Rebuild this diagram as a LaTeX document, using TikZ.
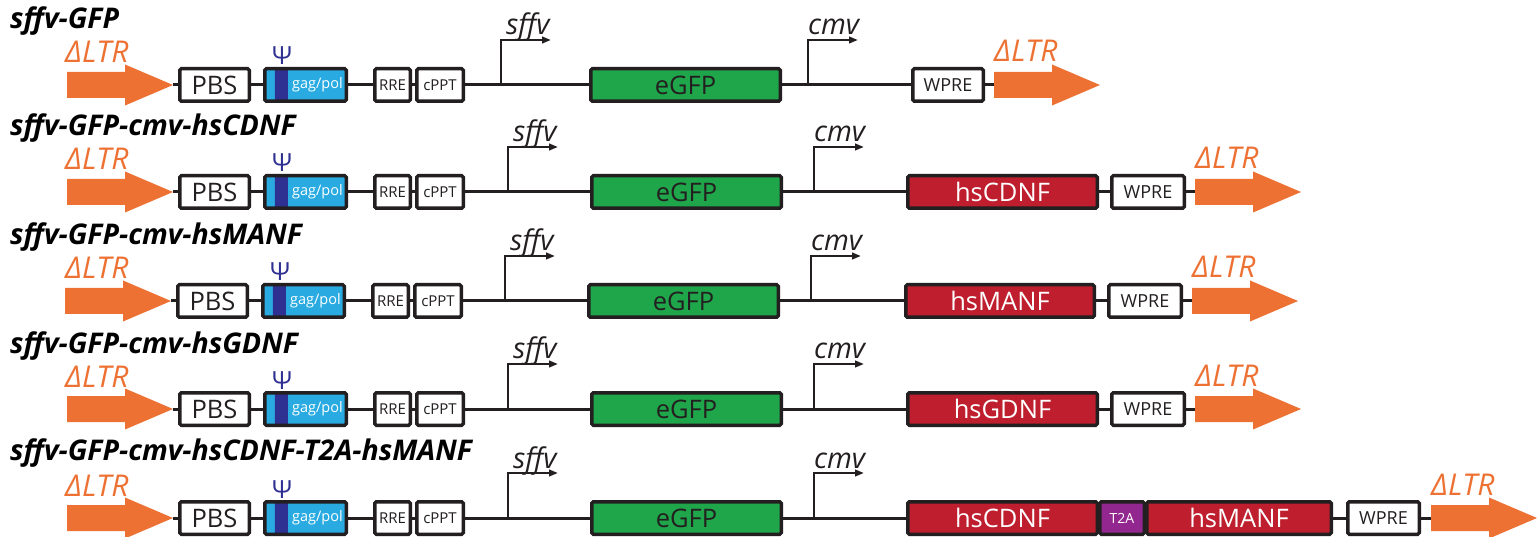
\documentclass[tikz,border=0pt]{standalone}
\usepackage{fontspec}
\setmainfont{Open Sans}
\usetikzlibrary{arrows.meta}
\definecolor{ltrc}{HTML}{ED7133}
\definecolor{gfpc}{HTML}{1FA64A}
\definecolor{hsred}{HTML}{BE1E2D}
\definecolor{lblue}{HTML}{29ABE2}
\definecolor{dblue}{HTML}{2E3192}
\definecolor{t2ac}{HTML}{92278F}
\definecolor{ink}{HTML}{231F20}
\newcommand\fs[1]{\fontsize{#1}{#1}\selectfont}
\tikzset{
  bb/.style={draw=ink, line width=3pt},
  anybox/.style={draw=ink, line width=3.5pt, rounded corners=1.5pt, minimum height=32.5pt, inner sep=0pt, text=ink},
  wbox/.style={anybox, fill=white},
  gagbox/.style={anybox, fill=lblue, path picture={\fill[dblue] ([xshift=10pt]path picture bounding box.south west) rectangle ([xshift=23pt]path picture bounding box.north west);}},
  gfpbox/.style={anybox, fill=gfpc, font=\fs{25.5}},
  redbox/.style={anybox, fill=hsred, text=white, font=\fs{25.5}},
  t2abox/.style={anybox, fill=t2ac, text=white, font=\fs{14}},
  gagtxt/.style={text=white, font=\fs{14.5}, inner sep=0pt},
  psilbl/.style={text=dblue, font=\fs{25}, anchor=base, inner sep=0pt},
  prom/.style={draw=ink, line width=2.6pt, -{Triangle[length=9pt,width=6.5pt]}},
  promlbl/.style={font=\itshape\fs{28.5}, text=ink, anchor=base west, inner sep=0pt},
  ltrlbl/.style={font=\itshape\fs{30}, text=ltrc, anchor=base west, inner sep=0pt},
  titlelbl/.style={font=\bfseries\itshape\fs{28.5}, text=black, anchor=base west, inner sep=0pt},
}
\newcommand\ltrarrow[3]{% name, x start, y
  \fill[ltrc] ({#2},{#3-13}) -- ({#2+58},{#3-13}) -- ({#2+58},{#3-20.5}) -- ({#2+106},{#3}) -- ({#2+58},{#3+20.5}) -- ({#2+58},{#3+13}) -- ({#2},{#3+13}) -- cycle;
  \coordinate (#1) at ({#2},{#3});}
\newcommand\bx[6]{% name, x1, x2, y, style, text
  \node[#5, minimum width={(#3-(#2)-3.5)*1pt}] (#1) at ({((#2)+(#3))/2},{#4}) {#6};}
\newcommand\prom[5]{% name, x, y, label, label dx
  \coordinate (#1) at ({#2},{#3});
  \draw[prom] (#1) -- ++(0,-45) -- ++(50,0);
  \node[promlbl] (#1l) at ({#2+#5},{#3-50}) {#4};}
\newcommand\front[3]{% name, y, dx
  \ltrarrow{#1L}{67+(#3)}{#2}
  \node[ltrlbl] (#1Ll) at ({65},{#2-22}) {ΔLTR};
  \bx{#1pbs}{178+(#3)}{251+(#3)}{#2}{wbox,font=\fs{25.5}}{PBS}
  \bx{#1gag}{263+(#3)}{348+(#3)}{#2}{gagbox}{}
  \node[gagtxt] (#1gagt) at ([xshift=12pt]#1gag.center) {gag/pol};
  \node[psilbl] (#1psi) at ([xshift=19pt,yshift=20pt]#1gag.west) {Ψ};
  \bx{#1rre}{373+(#3)}{412+(#3)}{#2}{wbox,font=\fs{15}}{RRE}
  \bx{#1cppt}{415+(#3)}{465+(#3)}{#2}{wbox,font=\fs{15}}{cPPT}}
\newcommand\back[3]{% name, y, x start of right arrow
  \ltrarrow{#1R}{#3}{#2}
  \node[ltrlbl] (#1Rl) at ({#3},{#2-23}) {ΔLTR};}
\begin{document}
\begin{tikzpicture}[x=1pt,y=-1pt]
\useasboundingbox (0,0) rectangle (1537,537);
\fill[white] (0,0) rectangle (1537,537);

% ---------- row 1 ----------
\coordinate (r1a) at (173,85); \coordinate (r1b) at (994,85);
\draw[bb] (r1a) -- (r1b);
\node[titlelbl] (r1title) at (10,29) {sffv-GFP};
\front{r1}{85}{0}
\prom{r1sffv}{501}{85}{sffv}{5}
\bx{r1gfp}{589}{782}{85}{gfpbox}{eGFP}
\prom{r1cmv}{808}{85}{cmv}{0}
\bx{r1wpre}{911}{985}{85}{wbox,font=\fs{18}}{WPRE}
\back{r1}{85}{994}

% ---------- row 2 ----------
\coordinate (r2a) at (173,192); \coordinate (r2b) at (1195,192);
\draw[bb] (r2a) -- (r2b);
\node[titlelbl] (r2title) at (10,136) {sffv-GFP-cmv-hsCDNF};
\front{r2}{192}{0}
\prom{r2sffv}{508}{192}{sffv}{5}
\bx{r2gfp}{590}{783}{192}{gfpbox}{eGFP}
\prom{r2cmv}{814}{192}{cmv}{0}
\bx{r2cdnf}{906}{1099}{192}{redbox}{hsCDNF}
\bx{r2wpre}{1110}{1186}{192}{wbox,font=\fs{18}}{WPRE}
\back{r2}{192}{1195}

% ---------- row 3 ----------
\coordinate (r3a) at (171,301); \coordinate (r3b) at (1192,301);
\draw[bb] (r3a) -- (r3b);
\node[titlelbl] (r3title) at (10,245) {sffv-GFP-cmv-hsMANF};
\front{r3}{301}{-2}
\prom{r3sffv}{505}{301}{sffv}{5}
\bx{r3gfp}{587}{780}{301}{gfpbox}{eGFP}
\prom{r3cmv}{811}{301}{cmv}{0}
\bx{r3manf}{904}{1096}{301}{redbox}{hsMANF}
\bx{r3wpre}{1107}{1183}{301}{wbox,font=\fs{18}}{WPRE}
\back{r3}{301}{1192}

% ---------- row 4 ----------
\coordinate (r4a) at (173,409); \coordinate (r4b) at (1195,409);
\draw[bb] (r4a) -- (r4b);
\node[titlelbl] (r4title) at (10,353) {sffv-GFP-cmv-hsGDNF};
\front{r4}{409}{0}
\prom{r4sffv}{508}{409}{sffv}{5}
\bx{r4gfp}{590}{783}{409}{gfpbox}{eGFP}
\prom{r4cmv}{814}{409}{cmv}{0}
\bx{r4gdnf}{906}{1099}{409}{redbox}{hsGDNF}
\bx{r4wpre}{1110}{1186}{409}{wbox,font=\fs{18}}{WPRE}
\back{r4}{409}{1195}

% ---------- row 5 ----------
\coordinate (r5a) at (173,518); \coordinate (r5b) at (1431,518);
\draw[bb] (r5a) -- (r5b);
\node[titlelbl] (r5title) at (10,460) {sffv-GFP-cmv-hsCDNF-T2A-hsMANF};
\front{r5}{518}{0}
\prom{r5sffv}{508}{518}{sffv}{5}
\bx{r5gfp}{590}{783}{518}{gfpbox}{eGFP}
\prom{r5cmv}{814}{518}{cmv}{0}
\bx{r5cdnf}{906}{1099}{518}{redbox}{hsCDNF}
\bx{r5manf}{1145}{1333}{518}{redbox}{hsMANF}
\bx{r5t2a}{1098}{1146}{518}{t2abox}{T2A}
\bx{r5wpre}{1346}{1421}{518}{wbox,font=\fs{18}}{WPRE}
\back{r5}{518}{1431}
\end{tikzpicture}
\end{document}
